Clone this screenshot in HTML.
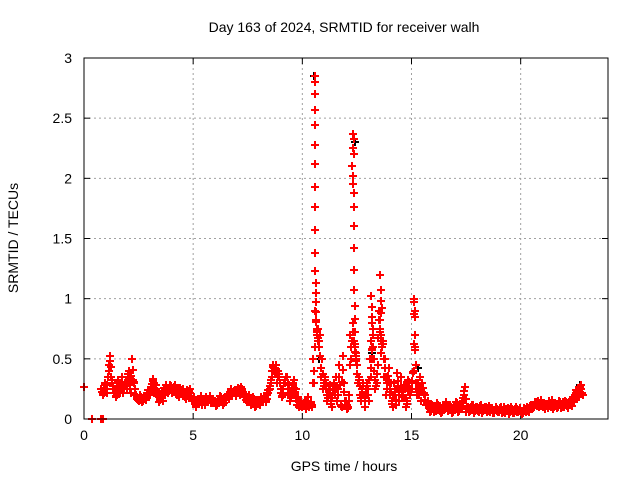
<!DOCTYPE html>
<html><head><meta charset="utf-8"><style>
body{margin:0;background:#fff}
svg{display:block;font-family:"Liberation Sans",sans-serif}
</style></head><body>
<svg id="chart" width="640" height="480">
<rect width="640" height="480" fill="#fff"/>
<text x="344" y="32" font-size="14" text-anchor="middle">Day 163 of 2024, SRMTID for receiver walh</text>
<text x="344" y="471" font-size="14" text-anchor="middle">GPS time / hours</text>
<text x="18" y="238" font-size="14" text-anchor="middle" transform="rotate(-90 18 238)">SRMTID / TECUs</text>
<g id="grid"></g>
<g id="ticks"></g>
<g id="black" shape-rendering="crispEdges"></g>
<g id="red" shape-rendering="crispEdges"></g>
<rect x="84" y="58" width="524" height="361" fill="none" stroke="#000" stroke-width="1"/>
</svg>
<script>
const xTicks=[0,5,10,15,20];
const yTicks=[0,0.5,1,1.5,2,2.5,3];
const yTickLabels=["0","0.5","1","1.5","2","2.5","3"];
const startT=0.8, stepT=0.1;
const valuesA=[0.25,0.22,
0.28,0.35,0.52,0.3,0.25,0.2,0.3,0.27,0.22,0.3,
0.35,0.28,0.5,0.3,0.2,0.15,0.18,0.15,0.17,0.2,
0.2,0.25,0.3,0.28,0.22,0.18,0.15,0.2,0.23,0.25,
0.27,0.25,0.22,0.24,0.26,0.22,0.2,0.24,0.22,0.18,
0.15,0.13,0.17,0.15,0.12,0.16,0.18,0.15,0.13,0.17,
0.15,0.12,0.14,0.17,0.13,0.16,0.2,0.22,0.2,0.24,
0.22,0.25,0.27,0.22,0.18,0.15,0.17,0.13,0.15,0.12,
0.15,0.18,0.14,0.17,0.2,0.25,0.35,0.42,0.45,0.4,
0.25,0.2,0.3,0.35,0.28,0.2,0.32,0.25,0.18,0.12,
0.1,0.15,0.12,0.1,0.14,0.5,0.9,0.75,0.7,0.5,
0.3,0.25,0.2,0.15,0.25,0.2,0.15,0.45,0.1,0.3,
0.15,0.1,0.7,0.8,0.6,0.45,0.35,0.15,0.3,0.2,
0.25,0.5,0.8,0.4,0.3,0.9,0.7,0.65,0.5,0.3,
0.2,0.15,0.3,0.12,0.25,0.35,0.18,0.25,0.15,0.3,
0.25,0.4,0.3,0.3,0.35,0.3,0.2,0.12,0.1,0.08,
0.1,0.07,0.12,0.09,0.06,0.1,0.14,0.08,0.1,0.06,
0.09,0.12,0.08,0.11,0.2,0.06,0.1,0.08,0.12,0.07,
0.1,0.06,0.12,0.08,0.1,0.07,0.06,0.09,0.05,0.08,
0.06,0.1,0.07,0.05,0.09,0.06,0.08,0.05,0.1,0.06,
0.07,0.05,0.08,0.1,0.06,0.12,0.1,0.14,0.15,0.12,
0.1,0.08,0.12,0.15,0.1,0.08,0.12,0.1,0.14,0.11,
0.1,0.13,0.12,0.15,0.18,0.2,0.22,0.25,0.22];
const valuesB=[0.2,0.3,
0.22,0.45,0.35,0.25,0.18,0.32,0.22,0.35,0.28,0.25,
0.4,0.22,0.32,0.2,0.17,0.2,0.14,0.19,0.16,0.24,
0.27,0.33,0.22,0.19,0.14,0.2,0.26,0.28,0.22,0.28,
0.22,0.28,0.2,0.18,0.23,0.25,0.17,0.2,0.25,0.15,
0.18,0.1,0.14,0.19,0.16,0.12,0.14,0.19,0.16,0.13,
0.11,0.16,0.19,0.12,0.18,0.2,0.17,0.25,0.23,0.19,
0.26,0.2,0.23,0.19,0.14,0.2,0.12,0.18,0.1,0.16,
0.12,0.15,0.19,0.14,0.24,0.3,0.45,0.38,0.3,0.35,
0.18,0.3,0.35,0.22,0.15,0.28,0.2,0.12,0.1,0.15,
0.12,0.08,0.18,0.12,0.1,0.3,0.72,0.6,0.35,0.25,
0.35,0.15,0.28,0.1,0.3,0.35,0.25,0.12,0.52,0.15,
0.08,0.2,0.5,0.65,0.52,0.3,0.2,0.25,0.1,0.3,
0.15,0.35,0.6,0.25,0.45,0.75,0.6,0.35,0.2,0.42,
0.3,0.1,0.2,0.38,0.15,0.2,0.28,0.1,0.32,0.2,
0.38,0.85,0.2,0.2,0.15,0.22,0.12,0.15,0.06,0.12,
0.06,0.13,0.08,0.05,0.12,0.08,0.07,0.12,0.05,0.1,
0.14,0.06,0.1,0.15,0.27,0.1,0.06,0.12,0.05,0.1,
0.07,0.11,0.05,0.1,0.06,0.11,0.09,0.05,0.1,0.06,
0.09,0.05,0.1,0.08,0.04,0.1,0.05,0.08,0.06,0.09,
0.04,0.09,0.06,0.07,0.11,0.09,0.14,0.11,0.1,0.16,
0.13,0.11,0.09,0.12,0.16,0.12,0.09,0.15,0.09,0.14,
0.15,0.09,0.16,0.11,0.14,0.24,0.18,0.28,0.2];
const spikeT=[10.58,10.58,10.6,10.6,10.6,10.6,10.6,10.6,10.6,10.6,10.6,10.6,10.62,10.62,10.62,10.62,10.64,10.66,10.68,10.7,
12.3,12.35,12.3,12.35,12.28,12.32,12.3,12.35,12.35,12.35,12.35,12.38,12.38,12.4,12.4,12.4,12.42,12.44,12.46,
13.15,13.2,13.18,13.22,13.15,13.2,13.18,
13.55,13.6,13.62,13.65,13.6,13.55,13.58,13.62,13.65,13.6,
15.1,15.12,15.15,15.1,15.15,15.15,15.18,15.2,0,0.35,0.8,0.85];
const spikeV=[2.85,2.8,2.7,2.57,2.44,2.28,2.12,1.93,1.76,1.57,1.38,1.23,1.13,1.05,0.97,0.89,0.82,0.75,0.7,0.65,
2.37,2.33,2.25,2.2,2.1,2.02,1.95,1.88,1.76,1.6,1.42,1.24,1.07,0.94,0.83,0.72,0.62,0.55,0.5,
1.02,0.93,0.85,0.75,0.65,0.58,0.5,
1.2,1.07,0.98,0.92,0.88,0.82,0.75,0.7,0.62,0.55,
1.0,0.97,0.9,0.87,0.85,0.7,0.6,0.45,0.27,0,0,0];
const blackT=[10.55,12.4,13.2,15.3,22.7,10.75];
const blackV=[2.85,2.3,0.55,0.42,0.28,0.5];

const X0=84,X1=608,Y0=419,Y1=58;
const xs=t=>X0+t*(X1-X0)/24;
const ys=v=>Y0-v*(Y0-Y1)/3;
const NS="http://www.w3.org/2000/svg";
function mk(tag,attrs,parent){const e=document.createElementNS(NS,tag);for(const k in attrs)e.setAttribute(k,attrs[k]);parent.appendChild(e);return e;}
const grid=document.getElementById('grid'),ticks=document.getElementById('ticks');
xTicks.forEach(t=>{const x=xs(t);
 if(t>0){const g=mk('line',{x1:x,x2:x,y1:Y1,y2:Y0,stroke:'#a0a0a0','stroke-dasharray':'2,3'},grid);
 
 }
 mk('line',{x1:x,x2:x,y1:Y0,y2:Y0-6,stroke:'#000'},ticks);mk('line',{x1:x,x2:x,y1:Y1,y2:Y1+6,stroke:'#000'},ticks);
 const l=mk('text',{x:x,y:Y0+21,'font-size':14,'text-anchor':'middle'},ticks);l.textContent=t;
 
 });
yTicks.forEach((v,i)=>{const y=ys(v);
 if(v>0&&v<3){const g=mk('line',{x1:X0,x2:X1,y1:y,y2:y,stroke:'#a0a0a0','stroke-dasharray':'2,3'},grid);
 
 }
 mk('line',{x1:X0,x2:X0+6,y1:y,y2:y,stroke:'#000'},ticks);mk('line',{x1:X1,x2:X1-6,y1:y,y2:y,stroke:'#000'},ticks);
 const l=mk('text',{x:X0-12,y:y+5,'font-size':14,'text-anchor':'end'},ticks);l.textContent=yTickLabels[i];
 
 });
function plus(t,v,color,parent){const x=Math.round(xs(t)),y=Math.round(ys(v));
 const p=mk('path',{d:`M${x-4},${y-1}h8v2h-8zM${x-1},${y-4}h2v8h-2z`,fill:color},parent);
 
 }
const blk=document.getElementById('black'),red=document.getElementById('red');
blackT.forEach((t,i)=>plus(t,blackV[i],'#000',blk));
valuesA.forEach((v,i)=>plus(startT+i*stepT,v,'#ff0000',red));
valuesB.forEach((v,i)=>plus(startT+i*stepT+0.05,v,'#ff0000',red));
valuesA.forEach((v,i)=>plus(startT+i*stepT+0.025,(v+valuesB[i])/2,'#ff0000',red));
valuesA.forEach((v,i)=>{if(i+1<valuesA.length)plus(startT+i*stepT+0.075,(valuesB[i]+valuesA[i+1])/2,'#ff0000',red);});
spikeT.forEach((t,i)=>plus(t,spikeV[i],'#ff0000',red));
</script>
</body></html>
